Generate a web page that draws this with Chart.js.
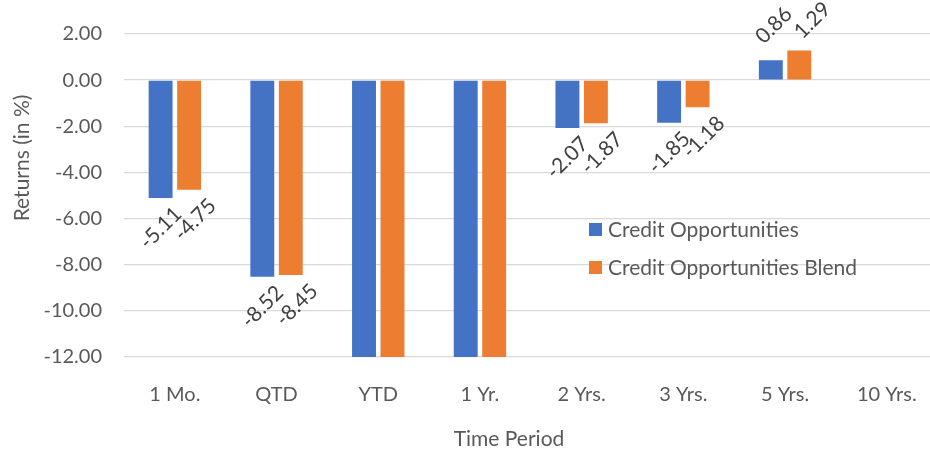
<!DOCTYPE html>
<html>
<head>
<meta charset="utf-8">
<script src="https://cdn.jsdelivr.net/npm/chart.js@4.4.1/dist/chart.umd.min.js"></script>
<style>
  html, body { margin: 0; padding: 0; background: #fff; overflow: hidden; }
  #wrap { width: 940px; height: 453px; }
</style>
</head>
<body>
<div id="wrap"><canvas id="returns" width="940" height="453"></canvas></div>
<script>
// chart data
const periods = ['1 Mo.', 'QTD', 'YTD', '1 Yr.', '2 Yrs.', '3 Yrs.', '5 Yrs.', '10 Yrs.'];
const creditOpp = [-5.11, -8.52, -15.2, -14.1, -2.07, -1.85, 0.86, null];
const creditOppBlend = [-4.75, -8.45, -14.8, -13.7, -1.87, -1.18, 1.29, null];
const yTicks = [2, 0, -2, -4, -6, -8, -10, -12];

const FONT = 'Lato, "Open Sans", sans-serif';
const GREY = '#595959';

// value labels, rotated like the excel ones
// (excel nudges the 2nd series a bit to the right)
const valueLabels = {
    id: 'valueLabels',
    afterDatasetsDraw(chart) {
        const ctx = chart.ctx;
        const y = chart.scales.y;
        chart.data.datasets.forEach((ds, i) => {
            const meta = chart.getDatasetMeta(i);
            meta.data.forEach((bar, j) => {
                const v = ds.data[j];
                if (v === null || v < y.min || v > y.max) return;
                ctx.save();
                if (v < 0) ctx.translate(bar.x + (i ? 6 : 0), bar.y + 30);
                else ctx.translate(bar.x + (i ? 13 : 3), bar.y - (i ? 30 : 35));
                ctx.rotate(-Math.PI / 4);
                ctx.font = '21px ' + FONT;
                ctx.fillStyle = '#404040';
                ctx.textAlign = 'center';
                ctx.textBaseline = 'middle';
                ctx.fillText(v.toFixed(2), 0, 0);
                ctx.restore();
            });
        });
    }
};

// legend inside plot + axis titles
const extras = {
    id: 'extras',
    afterDraw(chart) {
        const ctx = chart.ctx;
        ctx.save();
        ctx.font = '21px ' + FONT;
        ctx.textBaseline = 'middle';
        ctx.textAlign = 'left';
        chart.data.datasets.forEach((ds, i) => {
            const cy = 229.5 + i * 38;
            ctx.fillStyle = ds.backgroundColor;
            ctx.fillRect(589, cy - 6.5, 13, 13);
            ctx.fillStyle = GREY;
            ctx.fillText(ds.label, 608, cy + 1);
        });

        ctx.font = '21px ' + FONT;
        ctx.textAlign = 'center';
        ctx.fillText('Time Period', 509, 439);

        ctx.translate(22, 158);
        ctx.rotate(-Math.PI / 2);
        ctx.fillText('Returns (in %)', 0, 0);
        ctx.restore();
    }
};

new Chart(document.getElementById('returns'), {
    type: 'bar',
    data: {
        labels: periods,
        datasets: [
            { label: 'Credit Opportunities', data: creditOpp, backgroundColor: '#4472C4' },
            { label: 'Credit Opportunities Blend', data: creditOppBlend, backgroundColor: '#ED7D31' }
        ]
    },
    options: {
        responsive: false,
        animation: false,
        layout: { padding: { left: 0, top: 33, right: 2.4, bottom: 36 } },
        datasets: {
            bar: { categoryPercentage: 0.56, barPercentage: 0.84 }
        },
        plugins: {
            legend: { display: false },
            tooltip: { enabled: false }
        },
        scales: {
            x: {
                grid: { display: false },
                border: { display: false },
                ticks: { color: GREY, font: { family: FONT, size: 20 }, padding: 18, maxRotation: 0 },
                afterFit: (s) => { s.height = 60; }
            },
            y: {
                min: -12,
                max: 2,
                afterBuildTicks: (s) => { s.ticks = yTicks.map(v => ({ value: v })); },
                grid: { color: '#d9d9d9', lineWidth: 1.3, drawTicks: false },
                border: { display: false },
                ticks: {
                    color: GREY,
                    font: { family: FONT, size: 20 },
                    padding: 22,
                    callback: (v) => Number(v).toFixed(2)
                },
                afterFit: (s) => { s.width = 124; }
            }
        }
    },
    plugins: [valueLabels, extras]
});
</script>
</body>
</html>
